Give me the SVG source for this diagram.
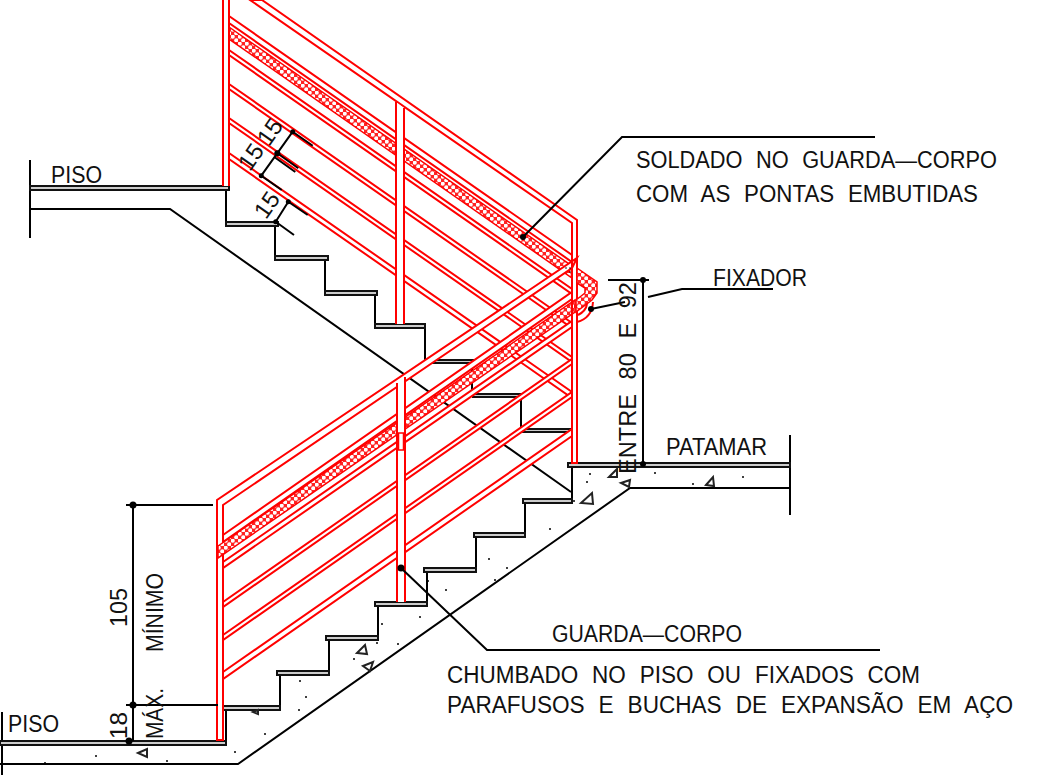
<svg xmlns="http://www.w3.org/2000/svg" width="1049" height="776" viewBox="0 0 1049 776">
<style>
.k{fill:none;stroke:#000;stroke-width:2}
.t{fill:#ccc;stroke:#111;stroke-width:2}
.r{fill:#fff;stroke:#f00;stroke-width:2}
.rl{fill:none;stroke:#f00;stroke-width:2}
.w{fill:#fff;stroke:none}
.b{fill:url(#st);stroke:#f00;stroke-width:1.500}
.d{fill:#000}
.tx{font-family:"Liberation Sans",Arial,sans-serif;font-size:23.5px;fill:#111;word-spacing:8px}
.tri{fill:#fff;stroke:#222;stroke-width:2}
</style>
<defs><pattern id="st" width="7" height="7" patternUnits="userSpaceOnUse"><rect width="7" height="7" fill="#f22"/><circle cx="1.75" cy="1.75" r="2.05" fill="#fff"/><circle cx="5.25" cy="5.25" r="2.05" fill="#fff"/></pattern></defs>
<g id="slabs">
<path class="k" d="M30 160V238M30 209H170L571 492"/>
<path class="k" d="M2 712V775M0 764H238L630 488H790M790 435V515"/>
<path class="k" d="M226 191V222M275 226V256M325 260V291M375 295V325M425 327V360M472 363V396M521 399V430M572 467V500M525 503V534M476 537V569M427 572V603M378 606V637M329 640V671M280 675V706M226 710V741"/>
</g>
<g id="treads">
<rect class="t" x="30" y="186" width="199" height="4"/>
<rect class="t" x="226" y="222" width="52" height="4"/>
<rect class="t" x="275" y="256" width="53" height="4"/>
<rect class="t" x="325" y="291" width="52" height="4"/>
<rect class="t" x="375" y="324" width="50" height="4"/>
<rect class="t" x="425" y="360" width="50" height="3"/>
<rect class="t" x="473" y="394" width="49" height="3"/>
<rect class="t" x="521" y="429" width="51" height="3"/>
<rect class="t" x="568" y="463" width="222" height="4"/>
<rect class="t" x="523" y="499" width="49" height="4"/>
<rect class="t" x="474" y="533" width="51" height="4"/>
<rect class="t" x="424" y="568" width="52" height="4"/>
<rect class="t" x="375" y="602" width="52" height="4"/>
<rect class="t" x="326" y="636" width="52" height="4"/>
<rect class="t" x="277" y="671" width="52" height="4"/>
<rect class="t" x="223" y="706" width="57" height="4"/>
<rect class="t" x="0" y="741" width="226" height="4"/>
</g>
<g id="upper-rail">
<polygon class="r" points="250,0 262,0 577,220 577,463 572,463 572,223"/>
<polygon class="r" points="229,16 572,255 572,262 229,23"/>
<polygon class="b" points="229,27 572,266 572,278 229,39"/>
<polygon class="r" points="229,50 572,289 572,294 229,55"/>
<polygon class="r" points="229,84 572,323 572,328 229,89"/>
<polygon class="r" points="229,118 572,357 572,362 229,123"/>
<polygon class="r" points="229,153 572,392 572,398 229,159"/>
<rect class="w" x="223" y="0" width="6" height="186"/>
<path class="rl" d="M223 0V186M229 0V186"/>
<polygon class="w" points="396,102 404,108 404,324 396,324"/>
<path class="rl" d="M396 102V324M404 108V324"/>
</g>
<g id="lower-rail">
<polygon class="r" points="223,505 572,268 577,258 217,500 217,740 223,740"/>
<polygon class="r" points="223,535 572,292 572,299 223,542"/>
<polygon class="b" points="218,546 575,300 575,312 218,558"/>
<polygon class="r" points="223,562 572,321 572,327 223,568"/>
<polygon class="r" points="223,602 572,359 572,364 223,607"/>
<polygon class="r" points="223,635 572,392 572,397 223,640"/>
<polygon class="r" points="223,672 572,429 572,436 223,679"/>
<polygon class="w" points="397,383 405,377 405,602 397,602"/>
<path class="rl" d="M397 383V602M405 377V602"/>
<rect class="r" x="398.500" y="433" width="5" height="17" style="stroke-width:1.500"/>
<path class="rl" d="M572 262V463M577 258V463"/>
</g>
<g id="fixador">
<path class="b" d="M577 268L597 282V293L592 300L576 312V300L585 293V288L577 283Z"/>
<path class="rl" d="M577 322Q592 318 593 302M578 315Q586 311 587 304"/>
<g class="d"><circle cx="566" cy="268" r="0.800"/><circle cx="570" cy="268" r="0.800"/><circle cx="570" cy="272" r="0.800"/></g>
</g>
<g id="dimensions">
<path class="k" d="M126 505H213M133 505V741M126 705H218M608 280H649M643 280V464"/>
<path class="k" d="M292.7 131.7L261.300 175.700M292.700 131.700L312.700 145.700M277.300 153.300L298.300 168.300M274.300 157L295.300 172M261.300 175.700L281.700 190M288.300 201.700L275.700 221.700M288.300 201.700L307.700 215M275.700 221.700L294 235"/>
<circle class="d" cx="133" cy="505" r="3.500"/><circle class="d" cx="133" cy="705" r="3.500"/><circle class="d" cx="129" cy="741" r="3.500"/>
<circle class="d" cx="643" cy="280" r="3"/><circle class="d" cx="643" cy="464" r="3"/>
<circle class="d" cx="292.700" cy="131.700" r="2.500"/><circle class="d" cx="277.300" cy="153.300" r="3"/><circle class="d" cx="261.300" cy="175.700" r="2.500"/><circle class="d" cx="288.300" cy="201.700" r="2.500"/><circle class="d" cx="275.700" cy="221.700" r="2.500"/>
</g>
<g id="leaders">
<path class="k" d="M523 237L622 137H875M591 309L625 302M648 297L682 289H773M401 568L487 650H880"/>
<circle class="d" cx="523" cy="237" r="3"/><circle class="d" cx="591" cy="309" r="3"/><circle class="d" cx="401" cy="568" r="3.500"/>
</g>
<g id="hatch">
<polygon class="tri" points="609,477 617,469 617,477"/><polygon class="tri" points="621,483 630,480 629,487"/><polygon class="tri" points="706,485 713,477 714,486"/><polygon class="tri" points="581,503 592,493 593,504"/><polygon class="tri" points="138,753 147,749 147,757"/><polygon class="tri" points="253,712 258,710 258,714"/><polygon class="tri" points="357,653 365,645 367,654"/><polygon class="tri" points="363,666 373,662 370,671"/>
<g class="d"><circle cx="590" cy="474" r="1"/><circle cx="587" cy="482" r="1"/><circle cx="655" cy="473" r="1"/><circle cx="693" cy="484" r="1"/><circle cx="743" cy="477" r="1"/><circle cx="574" cy="501" r="1"/><circle cx="96" cy="756" r="1"/><circle cx="45" cy="763" r="1"/><circle cx="167" cy="761" r="1"/><circle cx="235" cy="752" r="1"/><circle cx="265" cy="734" r="1"/><circle cx="299" cy="710" r="1"/><circle cx="306" cy="697" r="1"/><circle cx="300" cy="681" r="1"/><circle cx="550" cy="529" r="1"/><circle cx="489" cy="559" r="1"/><circle cx="507" cy="568" r="1"/><circle cx="495" cy="580" r="1"/><circle cx="446" cy="590" r="1"/><circle cx="428" cy="581" r="1"/><circle cx="420" cy="617" r="1"/><circle cx="382" cy="624" r="1"/><circle cx="377" cy="643" r="1"/><circle cx="398" cy="644" r="1"/><circle cx="354" cy="659" r="1"/></g>
</g>
<g id="labels">
<text class="tx" x="51" y="183" textLength="51" lengthAdjust="spacingAndGlyphs">PISO</text>
<text class="tx" x="8" y="732" textLength="51" lengthAdjust="spacingAndGlyphs">PISO</text>
<text class="tx" x="666" y="455" textLength="101" lengthAdjust="spacingAndGlyphs">PATAMAR</text>
<text class="tx" x="713" y="286" textLength="94" lengthAdjust="spacingAndGlyphs">FIXADOR</text>
<text class="tx" x="636" y="168" textLength="361" lengthAdjust="spacingAndGlyphs">SOLDADO NO GUARDA—CORPO</text>
<text class="tx" x="636" y="202" textLength="342" lengthAdjust="spacingAndGlyphs">COM AS PONTAS EMBUTIDAS</text>
<text class="tx" x="552" y="642" textLength="190" lengthAdjust="spacingAndGlyphs">GUARDA—CORPO</text>
<text class="tx" x="447" y="683" textLength="473" lengthAdjust="spacingAndGlyphs">CHUMBADO NO PISO OU FIXADOS COM</text>
<text class="tx" x="447" y="713" textLength="566" lengthAdjust="spacingAndGlyphs">PARAFUSOS E BUCHAS DE EXPANSÃO EM AÇO</text>
<text class="tx" transform="translate(636,474) rotate(-90)" textLength="192" lengthAdjust="spacingAndGlyphs">ENTRE 80 E 92</text>
<text class="tx" transform="translate(127,627) rotate(-90)" textLength="39" lengthAdjust="spacingAndGlyphs">105</text>
<text class="tx" transform="translate(163,652) rotate(-90)" textLength="79" lengthAdjust="spacingAndGlyphs">MÍNIMO</text>
<text class="tx" transform="translate(127,739) rotate(-90)" textLength="27" lengthAdjust="spacingAndGlyphs">18</text>
<text class="tx" transform="translate(163,739) rotate(-90)" textLength="51" lengthAdjust="spacingAndGlyphs">MÁX.</text>
<text class="tx" transform="translate(276.500,136.600) rotate(-55)" text-anchor="middle">15</text>
<text class="tx" transform="translate(257.500,161.600) rotate(-55)" text-anchor="middle">15</text>
<text class="tx" transform="translate(273.500,209.600) rotate(-55)" text-anchor="middle">15</text>
</g>
</svg>
